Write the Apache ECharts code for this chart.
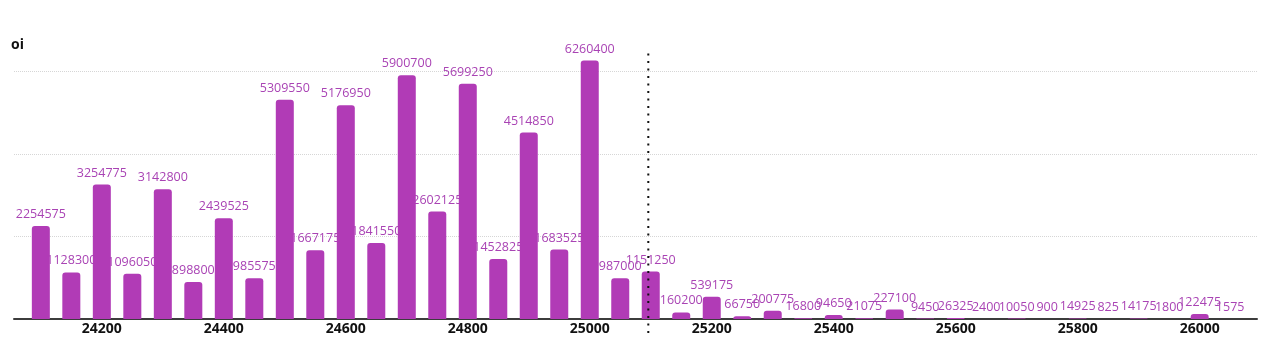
<!DOCTYPE html>
<html>
<head>
<meta charset="utf-8">
<script src="https://cdn.jsdelivr.net/npm/echarts@6/dist/echarts.min.js"></script>
<style>
  html, body { margin: 0; padding: 0; background: #ffffff; }
  #chart { width: 1264px; height: 337px; }
</style>
</head>
<body>
<div id="chart"></div>
<script>
// Open interest by strike price
const strikes = [
  24100, 24150, 24200, 24250, 24300, 24350, 24400, 24450, 24500, 24550,
  24600, 24650, 24700, 24750, 24800, 24850, 24900, 24950, 25000, 25050,
  25100, 25150, 25200, 25250, 25300, 25350, 25400, 25450, 25500, 25550,
  25600, 25650, 25700, 25750, 25800, 25850, 25900, 25950, 26000, 26050
];
const oi = [
  2254575, 1128300, 3254775, 1096050, 3142800, 898800, 2439525, 985575, 5309550, 1667175,
  5176950, 1841550, 5900700, 2602125, 5699250, 1452825, 4514850, 1683525, 6260400, 987000,
  1151250, 160200, 539175, 66750, 200775, 16800, 94650, 21075, 227100, 9450,
  26325, 2400, 10050, 900, 14925, 825, 14175, 1800, 122475, 1575
];
const strikeTicks = [24200, 24400, 24600, 24800, 25000, 25200, 25400, 25600, 25800, 26000];
const spotPrice = 25096;

const points = strikes.map((s, i) => [s, oi[i]]);

const BAR = '#b13bb6';
const LABEL = '#a943b4';
const X_MIN = 24056;
const X_MAX = 26094;

const chart = echarts.init(document.getElementById('chart'), null, { renderer: 'canvas' });

chart.setOption({
  animation: false,
  backgroundColor: '#ffffff',
  title: {
    text: 'oi',
    left: 6,
    top: 33,
    textStyle: { fontFamily: 'Open Sans', fontSize: 14, fontWeight: 'bold', color: '#111111' }
  },
  grid: [
    // bars
    { left: 14, right: 7, top: 48, bottom: 18, containLabel: false, outerBoundsMode: 'none' },
    // spot marker, reaching a little below the axis
    { left: 14, right: 7, top: 48, bottom: 4, containLabel: false, outerBoundsMode: 'none' }
  ],
  xAxis: [
    {
      type: 'value',
      gridIndex: 0,
      min: X_MIN,
      max: X_MAX,
      axisLine: { lineStyle: { color: '#3c3c3c', width: 2 } },
      axisTick: { show: false },
      splitLine: { show: false },
      axisLabel: {
        customValues: strikeTicks,
        formatter: v => String(v),
        margin: 3,
        color: '#111111',
        fontFamily: 'Open Sans',
        fontWeight: 'bold',
        fontSize: 14
      }
    },
    {
      type: 'value',
      gridIndex: 1,
      min: X_MIN,
      max: X_MAX,
      show: false
    }
  ],
  yAxis: [
    {
      type: 'value',
      gridIndex: 0,
      min: 0,
      max: 6563000,
      interval: 2000000,
      axisLine: { show: false },
      axisTick: { show: false },
      axisLabel: { show: false },
      splitLine: {
        show: true,
        showMinLine: false,
        showMaxLine: false,
        lineStyle: { color: '#d6d6d6', type: 'dotted', width: 1 }
      }
    },
    {
      type: 'value',
      gridIndex: 1,
      min: 0,
      max: 1,
      show: false
    }
  ],
  series: [
    {
      // value labels, drawn beneath the bars
      type: 'bar',
      xAxisIndex: 0,
      yAxisIndex: 0,
      z: 2,
      barWidth: 18,
      data: points,
      itemStyle: { color: 'rgba(0,0,0,0)' },
      label: {
        show: true,
        position: 'top',
        distance: 5,
        color: LABEL,
        fontFamily: 'Open Sans',
        fontSize: 12.5,
        formatter: p => String(p.value[1])
      }
    },
    {
      type: 'bar',
      xAxisIndex: 0,
      yAxisIndex: 0,
      z: 3,
      barWidth: 18,
      barGap: '-100%',
      data: points,
      itemStyle: { color: BAR, borderRadius: [3, 3, 0, 0] }
    },
    {
      // spot price
      type: 'line',
      xAxisIndex: 1,
      yAxisIndex: 1,
      z: 4,
      symbol: 'none',
      silent: true,
      data: [[spotPrice, 0], [spotPrice, 1]],
      lineStyle: { color: '#111111', type: [2, 5.5], width: 2 }
    }
  ]
});
</script>
</body>
</html>
